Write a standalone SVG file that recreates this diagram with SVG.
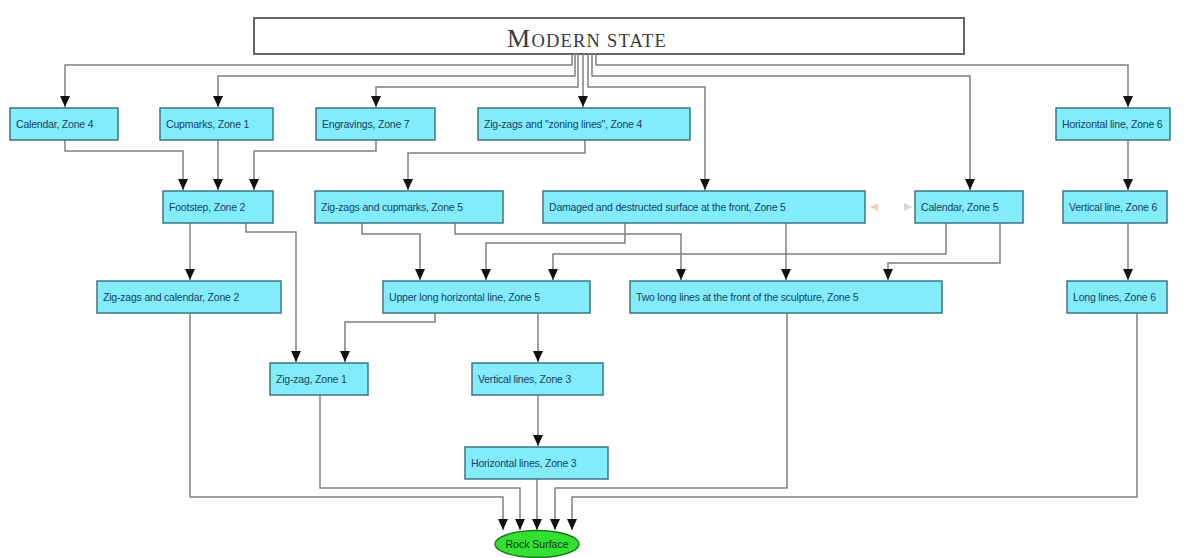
<svg xmlns="http://www.w3.org/2000/svg" width="1197" height="558" viewBox="0 0 1197 558">
<style>
.n rect{fill:#82ecfb;stroke:#3d7482;stroke-width:1.5}
.n text{font-family:"Liberation Sans",Arial,sans-serif;font-size:10.5px;fill:#173f66;letter-spacing:-0.2px}
.c path{fill:none;stroke:#808080;stroke-width:1.5}
.t{font-family:"Liberation Serif","Times New Roman",serif;fill:#3a3a3a}
</style>
<defs>
<marker id="a" markerUnits="userSpaceOnUse" markerWidth="12" markerHeight="10" refX="11" refY="5" orient="auto" viewBox="0 0 12 10">
<path d="M0,0 L11,5 L0,10 Z" fill="#111"/>
</marker>
</defs>
<rect width="1197" height="558" fill="#fff"/>
<g id="modern-state">
<rect x="254" y="18" width="710" height="36" fill="#fff" stroke="#666" stroke-width="2"/>
<text class="t" x="587" y="47" text-anchor="middle" letter-spacing="1.2"><tspan font-size="26">M</tspan><tspan font-size="18.5">ODERN STATE</tspan></text>
</g>
<g class="c" id="connectors">
<path d="M572,54 V65 H65 V107" marker-end="url(#a)"/>
<path d="M575,54 V76 H218 V107" marker-end="url(#a)"/>
<path d="M578,54 V87 H376 V107" marker-end="url(#a)"/>
<path d="M583,54 V107" marker-end="url(#a)"/>
<path d="M588,54 V87 H705 V190" marker-end="url(#a)"/>
<path d="M592,54 V76 H970 V190" marker-end="url(#a)"/>
<path d="M596,54 V65 H1128 V107" marker-end="url(#a)"/>
<path d="M65,140 V151 H183 V190" marker-end="url(#a)"/>
<path d="M218,140 V190" marker-end="url(#a)"/>
<path d="M376,140 V151 H254 V190" marker-end="url(#a)"/>
<path d="M585,140 V153 H408 V190" marker-end="url(#a)"/>
<path d="M1128,140 V190" marker-end="url(#a)"/>
<path d="M190,223 V280" marker-end="url(#a)"/>
<path d="M246,223 V232 H296 V362" marker-end="url(#a)"/>
<path d="M362,223 V234 H420 V280" marker-end="url(#a)"/>
<path d="M455,223 V234 H681 V280" marker-end="url(#a)"/>
<path d="M625,223 V243 H486 V280" marker-end="url(#a)"/>
<path d="M786,223 V280" marker-end="url(#a)"/>
<path d="M946,223 V254 H553 V280" marker-end="url(#a)"/>
<path d="M1000,223 V263 H888 V280" marker-end="url(#a)"/>
<path d="M1128,223 V280" marker-end="url(#a)"/>
<path d="M435,313 V322 H345 V362" marker-end="url(#a)"/>
<path d="M538,313 V362" marker-end="url(#a)"/>
<path d="M538,395 V446" marker-end="url(#a)"/>
<path d="M190,313 V497 H503 V530" marker-end="url(#a)"/>
<path d="M320,395 V488 H520 V530" marker-end="url(#a)"/>
<path d="M537,479 V530" marker-end="url(#a)"/>
<path d="M787,313 V488 H555 V530" marker-end="url(#a)"/>
<path d="M1137,313 V497 H572 V530" marker-end="url(#a)"/>
<polygon points="870,207 878,203 878,211" fill="#ecd2b0" stroke="none"/>
<polygon points="912,207 904,203 904,211" fill="#d6d6d6" stroke="none"/>
</g>
<g class="n" id="calendar-z4"><rect x="10" y="108" width="108" height="32"/><text x="16" y="128">Calendar, Zone 4</text></g>
<g class="n" id="cupmarks-z1"><rect x="160" y="108" width="113" height="32"/><text x="166" y="128">Cupmarks, Zone 1</text></g>
<g class="n" id="engravings-z7"><rect x="316" y="108" width="119" height="32"/><text x="322" y="128">Engravings, Zone 7</text></g>
<g class="n" id="zigzags-zoning-z4"><rect x="478" y="108" width="212" height="32"/><text x="484" y="128">Zig-zags and "zoning lines", Zone 4</text></g>
<g class="n" id="horizontal-line-z6"><rect x="1056" y="108" width="114" height="32"/><text x="1062" y="128">Horizontal line, Zone 6</text></g>
<g class="n" id="footstep-z2"><rect x="163" y="191" width="110" height="32"/><text x="169" y="211">Footstep, Zone 2</text></g>
<g class="n" id="zigzags-cupmarks-z5"><rect x="315" y="191" width="188" height="32"/><text x="321" y="211">Zig-zags and cupmarks, Zone 5</text></g>
<g class="n" id="damaged-z5"><rect x="543" y="191" width="322" height="32"/><text x="549" y="211">Damaged and destructed surface at the front, Zone 5</text></g>
<g class="n" id="calendar-z5"><rect x="915" y="191" width="108" height="32"/><text x="921" y="211">Calendar, Zone 5</text></g>
<g class="n" id="vertical-line-z6"><rect x="1063" y="191" width="104" height="32"/><text x="1069" y="211">Vertical line, Zone 6</text></g>
<g class="n" id="zigzags-calendar-z2"><rect x="97" y="281" width="184" height="32"/><text x="103" y="301">Zig-zags and calendar, Zone 2</text></g>
<g class="n" id="upper-long-z5"><rect x="383" y="281" width="207" height="32"/><text x="389" y="301">Upper long horizontal line, Zone 5</text></g>
<g class="n" id="two-long-z5"><rect x="630" y="281" width="312" height="32"/><text x="636" y="301">Two long lines at the front of the sculpture, Zone 5</text></g>
<g class="n" id="long-lines-z6"><rect x="1067" y="281" width="100" height="32"/><text x="1073" y="301">Long lines, Zone 6</text></g>
<g class="n" id="zigzag-z1"><rect x="270" y="363" width="98" height="32"/><text x="276" y="383">Zig-zag, Zone 1</text></g>
<g class="n" id="vertical-lines-z3"><rect x="472" y="363" width="131" height="32"/><text x="478" y="383">Vertical lines, Zone 3</text></g>
<g class="n" id="horizontal-lines-z3"><rect x="465" y="447" width="143" height="32"/><text x="471" y="467">Horizontal lines, Zone 3</text></g>
<g id="rock-surface">
<ellipse cx="537" cy="544" rx="42" ry="13.5" fill="#35e035" stroke="#1e7a1e" stroke-width="1.5"/>
<text x="537" y="548" text-anchor="middle" font-family="'Liberation Sans',Arial,sans-serif" font-size="10.5" fill="#0d3a0d">Rock Surface</text>
</g>
</svg>
